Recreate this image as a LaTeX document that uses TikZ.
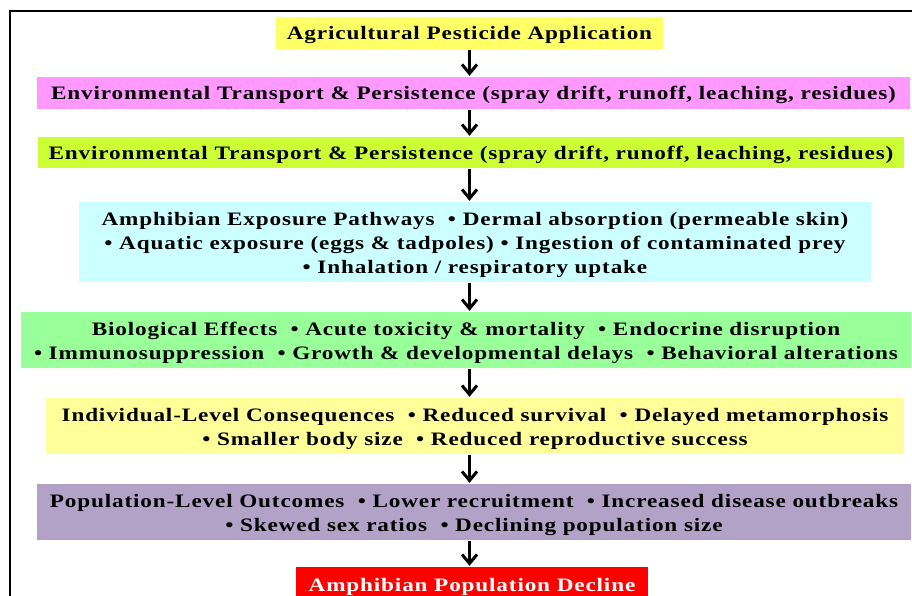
\documentclass[tikz,border=0pt]{standalone}
\usepackage{fontspec}
\usepackage{tikz}
\usetikzlibrary{positioning,arrows.meta}
\setmainfont{Liberation Serif}
\newfontfamily\flowfont{Liberation Serif}[FakeStretch=1.22,LetterSpace=4.5]
\definecolor{appyellow}{HTML}{FFFF66}
\definecolor{transpink}{HTML}{FF99FF}
\definecolor{translime}{HTML}{CCFF33}
\definecolor{exposecyan}{HTML}{CCFFFF}
\definecolor{biogreen}{HTML}{99FF99}
\definecolor{indivyellow}{HTML}{FFFF99}
\definecolor{poplilac}{HTML}{B3A2C7}
\definecolor{declinered}{HTML}{FF0000}
\tikzset{x=1pt, y=-1pt,
  stage/.style={inner sep=0pt, align=center, text depth=0pt, font=\flowfont\bfseries\fontsize{19}{24}\selectfont},
  oneline/.style={text height=14pt},
  twoline/.style={text height=38pt},
  threeline/.style={text height=62pt},
  flow/.style={line width=3pt, -{Straight Barb[length=9pt,width=15pt]}, shorten <=1pt, shorten >=1pt}}

\begin{document}
\begin{tikzpicture}
  \useasboundingbox (0,0) rectangle (912,596);
  \draw[line width=1.2pt] (10,596) -- (10,11) -- (912,11);

  \node (apply)  [stage, oneline, fill=appyellow, minimum width=387pt, minimum height=32pt] at (469.5,33)
    {Agricultural Pesticide Application};
  \node (trans1) [stage, oneline, fill=transpink, minimum width=873pt, minimum height=32pt] at (473.5,93)
    {Environmental Transport \& Persistence (spray drift, runoff, leaching, residues)};
  \node (trans2) [stage, oneline, fill=translime, minimum width=866pt, minimum height=31pt] at (471,152.5)
    {Environmental Transport \& Persistence (spray drift, runoff, leaching, residues)};
  \node (expose) [stage, threeline, fill=exposecyan, minimum width=792pt, minimum height=80pt] at (475,242)
    {Amphibian Exposure Pathways~ • Dermal absorption (permeable skin)\\
     • Aquatic exposure (eggs \& tadpoles) • Ingestion of contaminated prey\\
     • Inhalation / respiratory uptake};
  \node (bio)    [stage, twoline, fill=biogreen, minimum width=890pt, minimum height=56pt] at (466,340)
    {Biological Effects~ • Acute toxicity \& mortality~ • Endocrine disruption\\
     • Immunosuppression~ • Growth \& developmental delays~ • Behavioral alterations};
  \node (indiv)  [stage, twoline, fill=indivyellow, minimum width=858pt, minimum height=56pt] at (475,426)
    {Individual-Level Consequences~ • Reduced survival~ • Delayed metamorphosis\\
     • Smaller body size~ • Reduced reproductive success};
  \node (pop)    [stage, twoline, fill=poplilac, minimum width=874pt, minimum height=56pt] at (474,512)
    {Population-Level Outcomes~ • Lower recruitment~ • Increased disease outbreaks\\
     • Skewed sex ratios~ • Declining population size};
  \node (decline) [stage, oneline, fill=declinered, text=white, minimum width=352pt, minimum height=34pt] at (472,584)
    {Amphibian Population Decline};

  \draw[flow] (apply.south) -- (apply.south |- trans1.north);
  \draw[flow] (apply.south |- trans1.south) -- (apply.south |- trans2.north);
  \draw[flow] (apply.south |- trans2.south) -- (apply.south |- expose.north);
  \draw[flow] (apply.south |- expose.south) -- (apply.south |- bio.north);
  \draw[flow] (apply.south |- bio.south) -- (apply.south |- indiv.north);
  \draw[flow] (apply.south |- indiv.south) -- (apply.south |- pop.north);
  \draw[flow] (apply.south |- pop.south) -- (apply.south |- decline.north);
\end{tikzpicture}
\end{document}
